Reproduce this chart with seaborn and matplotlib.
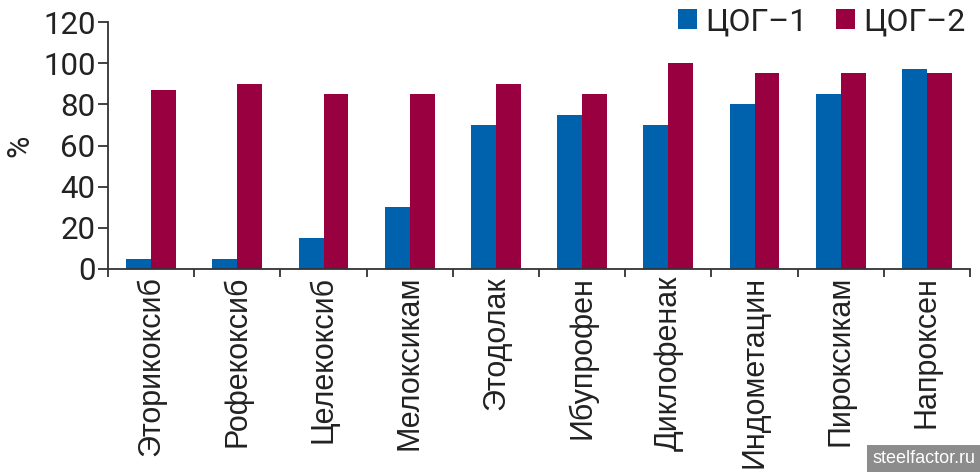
import numpy as np
import pandas as pd
import matplotlib
matplotlib.use("Agg")
import matplotlib.pyplot as plt
from matplotlib.font_manager import FontProperties
import seaborn as sns

# dados
drugs = ["Эторикоксиб", "Рофекоксиб", "Целекоксиб", "Мелоксикам", "Этодолак",
         "Ибупрофен", "Диклофенак", "Индометацин", "Пироксикам", "Напроксен"]
cox1 = [5, 5, 15, 30, 70, 75, 70, 80, 85, 97]
cox2 = [87, 90, 85, 85, 90, 85, 100, 95, 95, 95]
series = ["ЦОГ–1", "ЦОГ–2"]
yticks = [0, 20, 40, 60, 80, 100, 120]

df = pd.DataFrame({
    "drug": drugs * 2,
    "value": cox1 + cox2,
    "serie": [series[0]] * len(drugs) + [series[1]] * len(drugs),
})

sns.set_style("white")
plt.rcParams["font.family"] = ["Roboto", "DejaVu Sans"]

fig = plt.figure(figsize=(9.8, 4.72), dpi=100)
ax = fig.add_axes([108 / 980, 203 / 472, 862 / 980, 247 / 472])

cores = {series[0]: "#0062ad", series[1]: "#990040"}
sns.barplot(data=df, x="drug", y="value", hue="serie", palette=cores,
            width=0.58, saturation=1, ax=ax, edgecolor="none")

ax.set_xlim(-0.5, len(drugs) - 0.5)
ax.set_ylim(0, 120)
ax.set_yticks(yticks)
ax.set_yticklabels([str(v) for v in yticks], fontsize=22.5, color="#222222")

# rótulos no centro, ticks entre as categorias
fp = FontProperties(family="Liberation Sans", size=22)
ax.set_xticks(np.arange(len(drugs)))
ax.set_xticklabels(drugs, rotation=90, fontproperties=fp, color="#222222")
ax.set_xticks(np.arange(len(drugs) + 1) - 0.5, minor=True)
ax.tick_params(axis="x", which="minor", direction="out", length=6, width=1.3,
               color="#333333", bottom=True)
ax.tick_params(axis="x", which="major", length=0, pad=5)
ax.tick_params(axis="y", direction="out", length=7, width=1.3,
               color="#333333", left=True, pad=2)

ax.set_xlabel("")
ax.set_ylabel("%", fontsize=22, color="#222222", labelpad=6)

for s in ["top", "right"]:
    ax.spines[s].set_visible(False)
for s in ["left", "bottom"]:
    ax.spines[s].set_linewidth(1.3)
    ax.spines[s].set_color("#333333")

leg = ax.legend(loc="upper right", bbox_to_anchor=(1.01, 1.11), ncol=2,
                frameon=False, fontsize=23, handlelength=0.6, handleheight=0.6,
                handletextpad=0.25, columnspacing=0.9, borderaxespad=0)
for t in leg.get_texts():
    t.set_color("#222222")

fig.text(0.995, 0.01, "steelfactor.ru", ha="right", va="bottom", fontsize=13,
         color="white", family="Liberation Sans",
         bbox=dict(boxstyle="square,pad=0.3", fc="#8c8c8c", ec="none"))

fig.savefig("out.png", dpi=100)
